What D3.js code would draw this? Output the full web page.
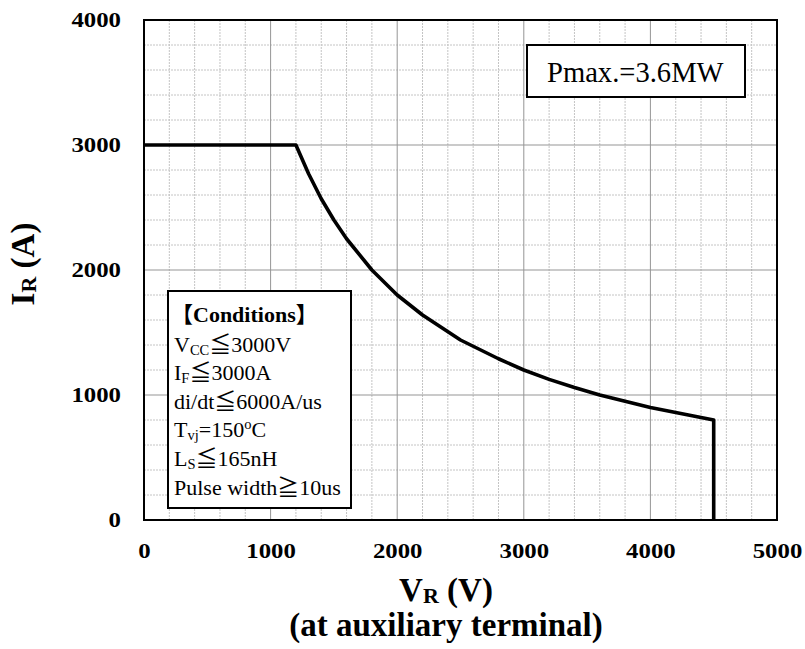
<!DOCTYPE html>
<html>
<head>
<meta charset="utf-8">
<script src="https://cdn.jsdelivr.net/npm/d3@7"></script>
<style>
  html, body { margin: 0; padding: 0; background: #fff; }
  svg { display: block; }
</style>
</head>
<body>
<div id="chart"></div>
<script>
// ---- data ----
const voltage = [0, 1200, 1300, 1400, 1500, 1600, 1800, 2000, 2200, 2500, 2800, 3000, 3200, 3400, 3600, 3800, 4000, 4200, 4300, 4500, 4500];
const current = [3000, 3000, 2770, 2570, 2400, 2250, 2000, 1800, 1640, 1440, 1290, 1200, 1125, 1060, 1000, 950, 900, 860, 840, 800, 0];
const xTicks = [0, 1000, 2000, 3000, 4000, 5000];
const yTicks = [0, 1000, 2000, 3000, 4000];
const xMinor = [200,400,600,800,1200,1400,1600,1800,2200,2400,2600,2800,3200,3400,3600,3800,4200,4400,4600,4800];
const yMinor = [200,400,600,800,1200,1400,1600,1800,2200,2400,2600,2800,3200,3400,3600,3800];
const pmaxLabel = "Pmax.=3.6MW";
const conditionsTitle = "【Conditions】";
const conditions = [
  [["V", ""], ["CC", "sub"], ["≦3000V", ""]],
  [["I", ""], ["F", "sub"], ["≦3000A", ""]],
  [["di/dt≦6000A/us", ""]],
  [["T", ""], ["vj", "sub"], ["=150", ""], ["o", "sup"], ["C", ""]],
  [["L", ""], ["S", "sub"], ["≦165nH", ""]],
  [["Pulse width≧10us", ""]]
];

const W = 805, H = 649;
const serif = '"Liberation Serif", "Times New Roman", "Noto Sans CJK JP", serif';
const svg = d3.select("#chart").append("svg").attr("width", W).attr("height", H)
  .style("background", "#fff");

const x = d3.scaleLinear().domain([0, 5000]).range([144, 777]);
const y = d3.scaleLinear().domain([0, 4000]).range([520, 20]);

// minor grid
const g = svg.append("g");
g.selectAll(".vminor").data(xMinor).enter().append("line")
  .attr("x1", d => x(d)).attr("x2", d => x(d)).attr("y1", y(0)).attr("y2", y(4000))
  .attr("stroke", "#c4c4c4").attr("stroke-width", 1).attr("stroke-dasharray", "2,1");
g.selectAll(".hminor").data(yMinor).enter().append("line")
  .attr("x1", x(0)).attr("x2", x(5000)).attr("y1", d => y(d)).attr("y2", d => y(d))
  .attr("stroke", "#c4c4c4").attr("stroke-width", 1).attr("stroke-dasharray", "2,1");
// major grid
g.selectAll(".vmajor").data(xTicks.slice(1, -1)).enter().append("line")
  .attr("x1", d => x(d)).attr("x2", d => x(d)).attr("y1", y(0)).attr("y2", y(4000))
  .attr("stroke", "#959595").attr("stroke-width", 1);
g.selectAll(".hmajor").data(yTicks.slice(1, -1)).enter().append("line")
  .attr("x1", x(0)).attr("x2", x(5000)).attr("y1", d => y(d)).attr("y2", d => y(d))
  .attr("stroke", "#959595").attr("stroke-width", 1);

// curve
const line = d3.line().x((d, i) => x(voltage[i])).y((d, i) => y(current[i]));
svg.append("path").datum(voltage).attr("d", line)
  .attr("fill", "none").attr("stroke", "#000").attr("stroke-width", 3.6)
  .attr("stroke-linejoin", "round");

// frame
svg.append("rect").attr("x", x(0)).attr("y", y(4000))
  .attr("width", x(5000) - x(0)).attr("height", y(0) - y(4000))
  .attr("fill", "none").attr("stroke", "#000").attr("stroke-width", 2);

// axes (labels only)
const xAxis = svg.append("g").attr("transform", `translate(0,${y(0)})`)
  .call(d3.axisBottom(x).tickValues(xTicks).tickSize(0).tickPadding(24).tickFormat(d3.format("d")));
const yAxis = svg.append("g").attr("transform", `translate(${x(0)},0)`)
  .call(d3.axisLeft(y).tickValues(yTicks).tickSize(0).tickPadding(23).tickFormat(d3.format("d")));
[xAxis, yAxis].forEach(a => {
  a.select(".domain").remove();
  a.selectAll("text")
    .attr("font-family", serif).attr("font-size", 20).attr("font-weight", "bold").attr("fill", "#000")
    .attr("textLength", d => String(d).length * 12.4).attr("lengthAdjust", "spacingAndGlyphs");
});

// x title
const xt = svg.append("text").attr("x", 446).attr("y", 601).attr("text-anchor", "middle")
  .attr("font-family", serif).attr("font-weight", "bold").attr("font-size", 33);
xt.append("tspan").text("V");
xt.append("tspan").text("R").attr("font-size", 22).attr("dy", 2);
xt.append("tspan").text(" (V)").attr("dy", -2);
svg.append("text").attr("x", 446).attr("y", 636).attr("text-anchor", "middle")
  .attr("font-family", serif).attr("font-weight", "bold").attr("font-size", 33)
  .text("(at auxiliary terminal)");

// y title
const yt = svg.append("text").attr("transform", "translate(34,264) rotate(-90)")
  .attr("text-anchor", "middle")
  .attr("font-family", serif).attr("font-weight", "bold").attr("font-size", 33);
yt.append("tspan").text("I");
yt.append("tspan").text("R").attr("font-size", 22).attr("dy", 2);
yt.append("tspan").text(" (A)").attr("dy", -2);

// Pmax box
svg.append("rect").attr("x", 527).attr("y", 45).attr("width", 218).attr("height", 52)
  .attr("fill", "#fff").attr("stroke", "#000").attr("stroke-width", 2);
svg.append("text").attr("x", 547).attr("y", 82)
  .attr("font-family", serif).attr("font-size", 28.6).attr("fill", "#000").text(pmaxLabel);

// Conditions box
svg.append("rect").attr("x", 168).attr("y", 291).attr("width", 183).attr("height", 217)
  .attr("fill", "#fff").attr("stroke", "#000").attr("stroke-width", 2);
svg.append("text").attr("x", 171).attr("y", 322)
  .attr("font-family", serif).attr("font-size", 22).attr("font-weight", "bold").text(conditionsTitle);
conditions.forEach((parts, i) => {
  const t = svg.append("text").attr("x", 174).attr("y", 351.5 + i * 28.6)
    .attr("font-family", serif).attr("font-size", 22).attr("fill", "#000");
  let shift = 0;
  parts.forEach(([s, kind]) => {
    const sp = t.append("tspan").text(s);
    let target = 0;
    if (kind === "sub") { sp.attr("font-size", 14.5); target = 3; }
    else if (kind === "sup") { sp.attr("font-size", 14.5); target = -8; }
    sp.attr("dy", target - shift);
    shift = target;
  });
});
</script>
</body>
</html>
